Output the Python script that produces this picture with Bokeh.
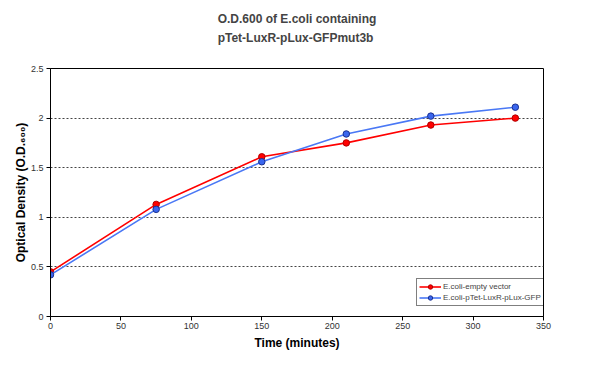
from bokeh.plotting import figure
from bokeh.models import Range1d, FixedTicker, Title, Legend, LegendItem
from bokeh.embed import file_html
from bokeh.resources import INLINE

time_min = [0, 75, 150, 210, 270, 330]
empty_vector = [0.45, 1.13, 1.61, 1.75, 1.93, 2.00]
gfp_construct = [0.42, 1.08, 1.56, 1.84, 2.02, 2.11]
x_ticks = [0, 50, 100, 150, 200, 250, 300, 350]
y_ticks = [0, 0.5, 1, 1.5, 2, 2.5]
y_tick_labels = ["0", "0.5", "1", "1.5", "2", "2.5"]
series_names = ["E.coli-empty vector", "E.coli-pTet-LuxR-pLux-GFP"]
title_lines = ["O.D.600 of E.coli containing", "pTet-LuxR-pLux-GFPmut3b"]

FONT = "Liberation Sans"

p = figure(width=584, height=352, output_backend="svg", toolbar_location=None,
           title=None, x_range=Range1d(0, 350), y_range=Range1d(0, 2.5),
           min_border_left=50, min_border_right=41, min_border_top=66, min_border_bottom=31)

# thin spacer panel between the frame and the title block
p.add_layout(Title(text=" ", text_font_size="1px", standoff=11), "above")
p.add_layout(Title(text="\n".join(title_lines), align="center", vertical_align="bottom",
                   text_font=FONT, text_font_size="12px", text_font_style="bold",
                   text_line_height=1.4, standoff=18), "above")

r1 = p.line(time_min, empty_vector, line_color="#ff0000", line_width=1.6)
m1 = p.scatter(time_min, empty_vector, size=6.5, fill_color="#ff0000", line_color="#b00000")
r2 = p.line(time_min, gfp_construct, line_color="#4a78f5", line_width=1.6)
m2 = p.scatter(time_min, gfp_construct, size=6.5, fill_color="#3a66ee", line_color="#1a3090")

p.outline_line_color = "black"
p.outline_line_width = 1
p.xgrid.grid_line_color = None
p.ygrid.grid_line_color = "#444444"
p.ygrid.grid_line_dash = "2 2"
p.ygrid.grid_line_width = 1

p.xaxis.ticker = FixedTicker(ticks=x_ticks)
p.yaxis.ticker = FixedTicker(ticks=y_ticks)
p.yaxis.major_label_overrides = {t: l for t, l in zip(y_ticks, y_tick_labels)}
p.xaxis.major_label_overrides = {t: str(t) for t in x_ticks}

for ax in (p.xaxis, p.yaxis):
    ax.axis_line_color = "black"
    ax.axis_line_width = 1
    ax.major_tick_line_color = "black"
    ax.major_tick_in = 0
    ax.major_tick_out = 4
    ax.minor_tick_line_color = None
    ax.major_label_text_font = FONT
    ax.major_label_text_font_size = "9px"
    ax.major_label_text_color = "#333333"
    ax.axis_label_text_font = FONT
    ax.axis_label_text_font_size = "12px"
    ax.axis_label_text_font_style = "bold"
    ax.axis_label_text_color = "black"

p.xaxis.axis_label = "Time (minutes)"
p.yaxis.axis_label = "Optical Density (O.D.\u2086\u2080\u2080)"
p.xaxis.axis_label_standoff = 4
p.yaxis.axis_label_standoff = 0
p.xaxis.major_label_standoff = 2
p.yaxis.major_label_standoff = 3

legend = Legend(items=[LegendItem(label=series_names[0], renderers=[r1, m1]),
                       LegendItem(label=series_names[1], renderers=[r2, m2])],
                location=(366, 10), label_text_font=FONT, label_text_font_size="8px",
                border_line_color="black", border_line_width=1, background_fill_alpha=1,
                padding=2, spacing=0, glyph_width=22, glyph_height=11, label_height=11,
                label_standoff=2, margin=0)
p.add_layout(legend, "center")

open("out.html", "w").write(file_html(p, INLINE))
